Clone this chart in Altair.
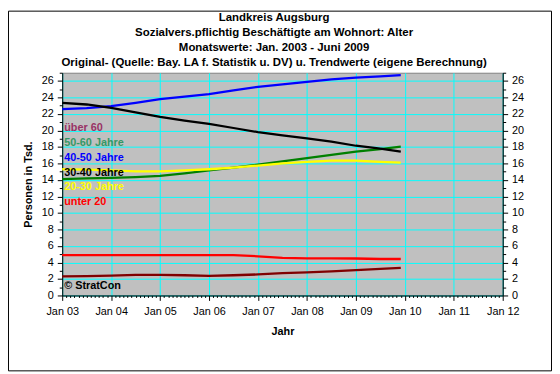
import altair as alt
import pandas as pd

# Decimal years (Jan 2003 ... Dec 2009)
zeitpunkte = [2003.0, 2003.5, 2004.0, 2004.5, 2005.0, 2005.5, 2006.0, 2006.5,
              2007.0, 2007.5, 2008.0, 2008.5, 2009.0, 2009.5, 2009.917]

ueber_60 = [2.30, 2.35, 2.40, 2.50, 2.50, 2.45, 2.38, 2.45, 2.55, 2.70, 2.80, 2.92, 3.08, 3.22, 3.35]
j50_60 = [14.10, 14.20, 14.25, 14.35, 14.50, 14.80, 15.15, 15.50, 15.85, 16.25, 16.65, 17.05, 17.45, 17.75, 18.05]
j40_50 = [22.60, 22.70, 22.95, 23.35, 23.80, 24.10, 24.40, 24.85, 25.30, 25.60, 25.90, 26.20, 26.40, 26.55, 26.70]
j30_40 = [23.35, 23.15, 22.75, 22.20, 21.65, 21.20, 20.80, 20.30, 19.80, 19.40, 19.05, 18.65, 18.15, 17.80, 17.45]
j20_30 = [15.30, 15.25, 15.15, 15.05, 15.05, 15.15, 15.30, 15.50, 15.75, 16.00, 16.20, 16.35, 16.35, 16.20, 16.10]
unter_20 = [4.90, 4.90, 4.90, 4.90, 4.90, 4.90, 4.90, 4.88, 4.75, 4.55, 4.50, 4.50, 4.48, 4.42, 4.42]

serien = ["über 60", "50-60 Jahre", "40-50 Jahre", "30-40 Jahre", "20-30 Jahre", "unter 20"]
werte = [ueber_60, j50_60, j40_50, j30_40, j20_30, unter_20]
linienfarben = ["#800000", "#008000", "#0000FF", "#000000", "#FFFF00", "#FF0000"]
textfarben = ["#993366", "#339966", "#0000FF", "#000000", "#FFFF00", "#FF0000"]

titelzeilen = [
    "Landkreis Augsburg",
    "Sozialvers.pflichtig Beschäftigte am Wohnort: Alter",
    "Monatswerte: Jan. 2003 - Juni 2009",
    "Original- (Quelle: Bay. LA f. Statistik u. DV) u. Trendwerte (eigene Berechnung)",
]

x_ticks = [round(2003 + m / 12, 6) for m in range(0, 109)]
y_ticks = list(range(0, 28))

rows = []
for s, vals in zip(serien, werte):
    for t, v in zip(zeitpunkte, vals):
        rows.append({"Serie": s, "Jahr": t, "Wert": v})
df = pd.DataFrame(rows)

FONT = "Liberation Sans"
W, H = 447, 226
PL, PT, PR, PB = 55, 63, 50, 77

is_jan = "abs(datum.value - round(datum.value)) < 0.001"
x_axis = alt.Axis(
    values=x_ticks,
    labelExpr=f"{is_jan} ? 'Jan ' + format(round(datum.value) % 100, '02d') : ''",
    tickSize={"condition": {"test": is_jan, "value": 5}, "value": 2},
    gridOpacity={"condition": {"test": is_jan, "value": 1}, "value": 0},
    grid=True, labelOverlap=False, labelFlush=False, labelPadding=5,
    title="Jahr", titleX=W / 2, titleY=37, titleBaseline="middle",
    titleFontWeight="bold", titleFontSize=11,
)

is_even = "datum.value % 2 == 0"


def y_axis(orient):
    kw = dict(
        orient=orient, values=y_ticks,
        labelExpr=f"{is_even} ? format(datum.value, 'd') : ''",
        tickSize={"condition": {"test": is_even, "value": 5}, "value": 3},
        labelOverlap=False, labelPadding=4,
    )
    if orient == "left":
        kw.update(grid=True,
                  gridOpacity={"condition": {"test": is_even, "value": 1}, "value": 0},
                  title="Personen in Tsd.", titleX=-34, titleY=H / 2,
                  titleBaseline="middle", titleAlign="center",
                  titleFontWeight="bold", titleFontSize=11)
    else:
        kw.update(grid=False, title=None)
    return alt.Axis(**kw)


xs = alt.Scale(domain=[2003, 2012], nice=False, zero=False)
ys = alt.Scale(domain=[0, 27], nice=False)
cs = alt.Scale(domain=serien, range=linienfarben)

lines = alt.Chart(df).mark_line(strokeWidth=2.3).encode(
    x=alt.X("Jahr:Q", scale=xs, axis=x_axis),
    y=alt.Y("Wert:Q", scale=ys, axis=y_axis("left")),
    color=alt.Color("Serie:N", scale=cs, legend=None),
)

right = alt.Chart(df).mark_line(strokeOpacity=0).encode(
    x=alt.X("Jahr:Q", scale=xs, axis=None),
    y=alt.Y("Wert:Q", scale=ys, axis=y_axis("right")),
    detail="Serie:N",
)

layers = [lines, right]

# Outer chart frame
layers.append(
    alt.Chart(pd.DataFrame({"t": [0]})).mark_rect(
        fill=None, stroke="#000000", strokeWidth=1,
    ).encode(
        x=alt.value(-PL + 0.5), x2=alt.value(W + PR - 0.5),
        y=alt.value(-PT + 0.5), y2=alt.value(H + PB - 0.5),
    )
)

# Title
layers.append(
    alt.Chart(pd.DataFrame({"t": ["\n".join(titelzeilen)]})).mark_text(
        font=FONT, fontSize=11.6, fontWeight="bold", align="center", baseline="top",
        lineBreak="\n", lineHeight=15.3, color="#000000",
    ).encode(text="t:N", x=alt.value(278 - 63), y=alt.value(9 - 71))
)

# Series labels on the plot
label_y = [126.7, 142.3, 157.3, 172.3, 187.3, 202.3]
for s, c, yy in zip(serien, textfarben, label_y):
    layers.append(
        alt.Chart(pd.DataFrame({"t": [s]})).mark_text(
            font=FONT, fontSize=11, fontWeight="bold", align="left", baseline="middle",
            color=c,
        ).encode(text="t:N", x=alt.value(2), y=alt.value(yy - 71))
    )

layers.append(
    alt.Chart(pd.DataFrame({"t": ["© StratCon"]})).mark_text(
        font=FONT, fontSize=11, fontWeight="bold", align="left", baseline="middle",
        color="#000000",
    ).encode(text="t:N", x=alt.value(2), y=alt.value(287.5 - 71))
)

chart = alt.layer(*layers).resolve_axis(y="independent", x="independent").properties(
    width=W, height=H,
    autosize=alt.AutoSizeParams(type="none"),
    padding={"left": PL, "top": PT, "right": PR, "bottom": PB},
    background="#FFFFFF",
).configure(font=FONT).configure_view(
    fill="#C0C0C0", stroke="#808080", strokeWidth=1,
).configure_axis(
    domainColor="#000000", tickColor="#000000", labelColor="#000000",
    labelFont=FONT, labelFontSize=11, titleFont=FONT, titleColor="#000000",
    gridColor="#00FFFF", gridWidth=1, domainWidth=1, tickWidth=1,
)

chart.save("out.html", embed_options={"renderer": "svg", "actions": False})
